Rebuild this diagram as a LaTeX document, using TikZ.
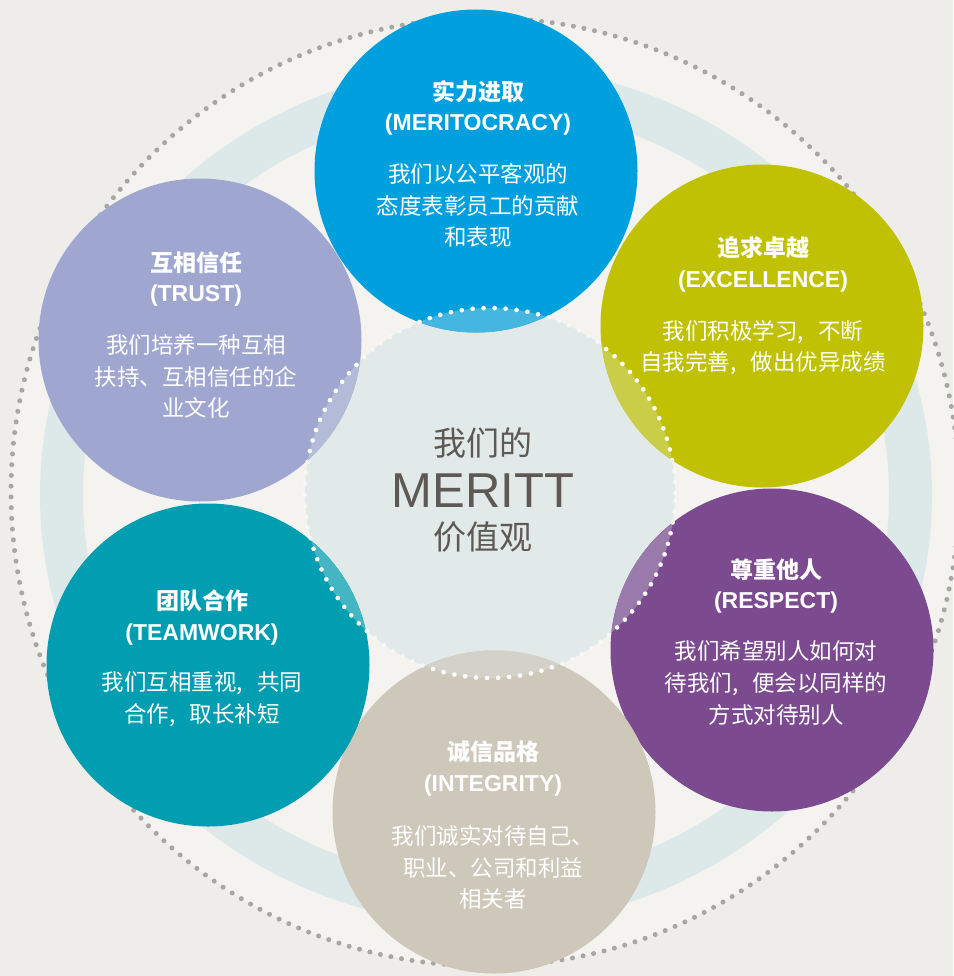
\documentclass[tikz,border=0pt]{standalone}
\usepackage{fontspec}
\newfontfamily\cjk{Noto Sans CJK SC}
\newfontfamily\lat{Liberation Sans}
\newcommand\cmsep{,\hspace{0.62em}}
\definecolor{bgout}{HTML}{EEEDE9}
\definecolor{bgin}{HTML}{F4F3EF}
\definecolor{ringc}{HTML}{DDE9E9}
\definecolor{pale}{HTML}{E1EAE8}
\definecolor{cblue}{HTML}{009FDD}
\definecolor{cyellow}{HTML}{C0C102}
\definecolor{cpurple}{HTML}{7B4A8F}
\definecolor{cbeige}{HTML}{CEC8BB}
\definecolor{cteal}{HTML}{019EB2}
\definecolor{clav}{HTML}{9FA7D1}
\definecolor{greydot}{HTML}{A8A6A2}
\definecolor{ctext}{HTML}{5E5955}
\begin{document}
\begin{tikzpicture}[x=1pt,y=-1pt,
  vcircle/.style={circle, minimum size=323pt, inner sep=0pt, draw=none},
  ttl/.style={text=white, inner sep=0pt, font=\cjk\bfseries\fontsize{23}{26}\selectfont},
  en/.style={text=white, inner sep=0pt, font=\lat\bfseries\fontsize{23}{26}\selectfont},
  body/.style={text=white, inner sep=0pt, align=center, font=\cjk\fontsize{22.5}{31.8}\selectfont},
  dotline/.style={line width=5pt, line cap=round},
]
\useasboundingbox (0,0) rectangle (953,976);
% backgrounds
\fill[bgout] (0,0) rectangle (953,976);
\fill[bgin] (485,492) circle[radius=474pt];
\fill[ringc, even odd rule] (486,495) ellipse[x radius=446pt, y radius=430pt]
                            (486,495) ellipse[x radius=403pt, y radius=387pt];
\draw[greydot, dotline, dash pattern=on 0pt off 10.75pt] (485,492) circle[radius=474pt];
% centre
\node[circle, minimum size=370pt, inner sep=0pt, fill=pale] (core) at (490,493) {};
% value circles
\node[vcircle, fill=cblue]   (blue)   at (476,171) {};
\node[vcircle, fill=cyellow] (yellow) at (762,326) {};
\node[vcircle, fill=cpurple] (purple) at (772,650) {};
\node[vcircle, fill=cbeige]  (beige)  at (494,812) {};
\node[vcircle, fill=cteal]   (teal)   at (208,665) {};
\node[vcircle, fill=clav]    (lav)    at (200,340) {};
% overlaps
\begin{scope}
  \clip (core.center) circle[radius=185pt];
  \fill[cblue!70!pale]   (blue.center)   circle[radius=161.5pt];
  \fill[cyellow!70!pale] (yellow.center) circle[radius=161.5pt];
  \fill[cpurple!70!pale] (purple.center) circle[radius=161.5pt];
  \fill[cbeige!70!pale]  (beige.center)  circle[radius=161.5pt];
  \fill[cteal!70!pale]   (teal.center)   circle[radius=161.5pt];
  \fill[clav!70!pale]    (lav.center)    circle[radius=161.5pt];
\end{scope}
% white dotted boundary
\draw[white, opacity=.5, dotline, line width=4.5pt, dash pattern=on 0pt off 11pt] (core.center) circle[radius=185pt];
\begin{scope}
  \clip (blue.center) circle[radius=161.5pt] (yellow.center) circle[radius=161.5pt]
        (purple.center) circle[radius=161.5pt] (beige.center) circle[radius=161.5pt]
        (teal.center) circle[radius=161.5pt] (lav.center) circle[radius=161.5pt];
  \draw[white, dotline, line width=4.5pt, dash pattern=on 0pt off 11pt] (core.center) circle[radius=185pt];
\end{scope}
% centre text
\node[text=ctext, inner sep=0pt, font=\cjk\fontsize{33}{36}\selectfont] (c1) at (483,443) {我们的};
\node[text=ctext, inner sep=0pt, font=\lat\fontsize{49}{52}\selectfont] (c2) at (483,491) {MERITT};
\node[text=ctext, inner sep=0pt, font=\cjk\fontsize{33}{36}\selectfont] (c3) at (483,537) {价值观};
% blue
\node[ttl]  (blueT) at (478,92)  {实力进取};
\node[en]   (blueE) at (478,125) {(MERITOCRACY)};
\node[body] (blueB) at (478,205.5) {我们以公平客观的\\态度表彰员工的贡献\\和表现};
% yellow
\node[ttl]  (yelT) at (763,248) {追求卓越};
\node[en]   (yelE) at (763,282) {(EXCELLENCE)};
\node[body] (yelB) at (763,347.5) {我们积极学习\cmsep 不断\\自我完善\cmsep 做出优异成绩};
% lavender
\node[ttl]  (lavT) at (196,263) {互相信任};
\node[en]   (lavE) at (196,296) {(TRUST)};
\node[body] (lavB) at (196,376.5) {我们培养一种互相\\扶持、互相信任的企\\业文化};
% teal
\node[ttl]  (teaT) at (202,601) {团队合作};
\node[en]   (teaE) at (202,635) {(TEAMWORK)};
\node[body] (teaB) at (202,699) {我们互相重视\cmsep 共同\\合作\cmsep 取长补短};
% purple
\node[ttl]  (purT) at (776,570) {尊重他人};
\node[en]   (purE) at (776,603) {(RESPECT)};
\node[body] (purB) at (776,683) {我们希望别人如何对\\待我们\cmsep 便会以同样的\\方式对待别人};
% beige
\node[ttl]  (beiT) at (493,752) {诚信品格};
\node[en]   (beiE) at (493,786) {(INTEGRITY)};
\node[body] (beiB) at (493,867.5) {我们诚实对待自己、\\职业、公司和利益\\相关者};
\end{tikzpicture}
\end{document}
